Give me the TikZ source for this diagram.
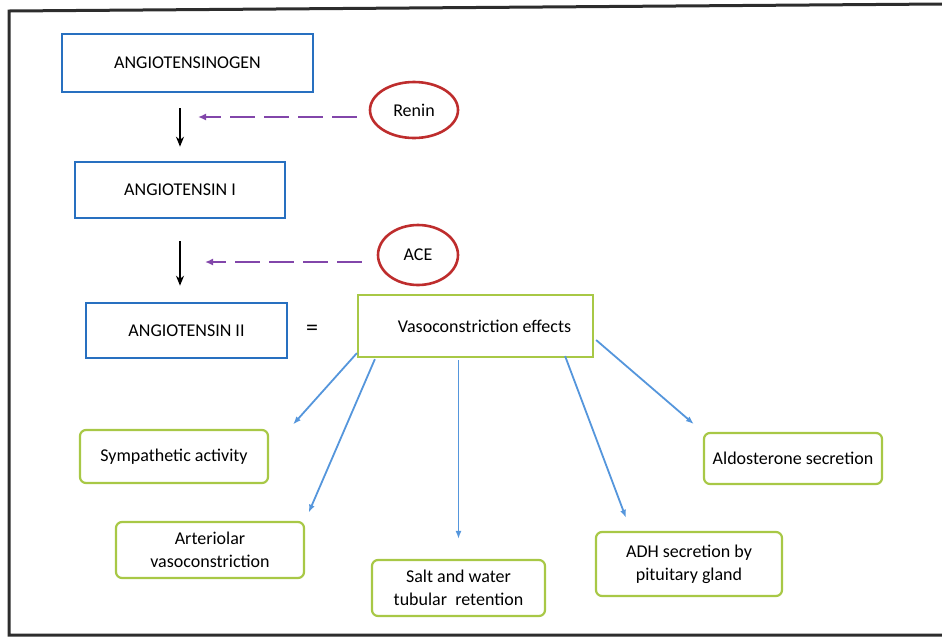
\documentclass[tikz,border=0pt]{standalone}
\usepackage{fontspec}
\setmainfont{Carlito}
\usetikzlibrary{shapes.geometric}
\usetikzlibrary{arrows.meta}
\definecolor{boxblue}{RGB}{40,112,192}
\definecolor{boxgreen}{RGB}{168,200,70}
\definecolor{enzred}{RGB}{190,45,45}
\definecolor{enzviolet}{RGB}{130,70,170}
\definecolor{linkblue}{RGB}{85,150,220}
\definecolor{framegray}{RGB}{45,45,45}

\begin{document}
\begin{tikzpicture}[x=1pt,y=-1pt,font=\fontsize{18}{23}\selectfont,
  peptide/.style={draw=boxblue,line width=2.6pt,inner sep=0pt},
  enzyme/.style={draw=enzred,ellipse,line width=2.6pt,inner sep=0pt},
  effect/.style={draw=boxgreen,line width=2.2pt,inner sep=0pt,align=center},
  flow/.style={line width=1.8pt,-{Stealth[length=10pt,width=8pt]}},
  enzline/.style={enzviolet,line width=2.6pt,dash pattern=on 25pt off 9pt,-{Latex[length=8pt,width=7pt]}},
  link/.style={linkblue,line width=1.8pt,-{Latex[length=8pt,width=6pt]}}]
\useasboundingbox (0,0) rectangle (942,638);
\draw [framegray,line width=3pt] (942,4) -- (9,11) -- (9,635) -- (942,635);
\node [peptide,minimum width=251,minimum height=58] (gen) at (187.5,63) {ANGIOTENSINOGEN};
\node [peptide,minimum width=210,minimum height=56] (ang1) at (180,190) {ANGIOTENSIN I};
\node [peptide,minimum width=201,minimum height=55] (ang2) at (186.5,330.5) {ANGIOTENSIN II};
\node [enzyme,minimum width=88,minimum height=56] (renin) at (414,110) {Renin};
\node [enzyme,minimum width=80,minimum height=60] (ace) at (418,255) {ACE};
\node [font=\fontsize{24}{24}\selectfont] (eq) at (312,330) {=};
\node [effect,minimum width=235,minimum height=62] (vaso) at (475.5,326) {\hspace*{18pt}Vasoconstriction effects};
\node [effect,rounded corners=6pt,minimum width=188,minimum height=53] (symp) at (174,456.5) {Sympathetic activity};
\node [effect,rounded corners=6pt,minimum width=188,minimum height=56] (arter) at (210,550) {Arteriolar\\vasoconstriction};
\node [effect,rounded corners=6pt,minimum width=173,minimum height=56] (salt) at (458.5,588) {Salt and water\\tubular\ \ retention};
\node [effect,rounded corners=6pt,minimum width=186,minimum height=64] (adh) at (689,564) {ADH secretion by\\pituitary gland};
\node [effect,rounded corners=6pt,minimum width=178,minimum height=51] (aldo) at (793,458.5) {Aldosterone secretion};
\coordinate (reninend) at (198,117);
\coordinate (aceend) at (205,262);
\draw [flow,shorten <=15pt,shorten >=14pt] (gen.south -| ang1.north) -- (ang1.north);
\draw [flow,shorten <=22pt,shorten >=16pt] (ang1.south) -- (ang1.south |- ang2.north);
\draw [enzline,shorten <=12pt] (renin.west |- reninend) -- (reninend);
\draw [enzline,shorten <=15pt] (ace.west |- aceend) -- (aceend);
\draw [link,shorten >=6pt] ([shift={(0,-5)}]vaso.south west) -- ([shift={(20,0)}]symp.north east);
\draw [link,shorten >=9pt] ([shift={(18,1)}]vaso.south west) -- (arter.north east);
\draw [link,shorten >=20pt] ([shift={(-17,2)}]vaso.south) -- (salt.north);
\draw [link,shorten >=14pt] ([shift={(-29,-2)}]vaso.south east) -- ([shift={(36,0)}]adh.north west);
\draw [link,shorten >=12pt] ([shift={(2,14)}]vaso.east) -- (aldo.north west);
\end{tikzpicture}
\end{document}
